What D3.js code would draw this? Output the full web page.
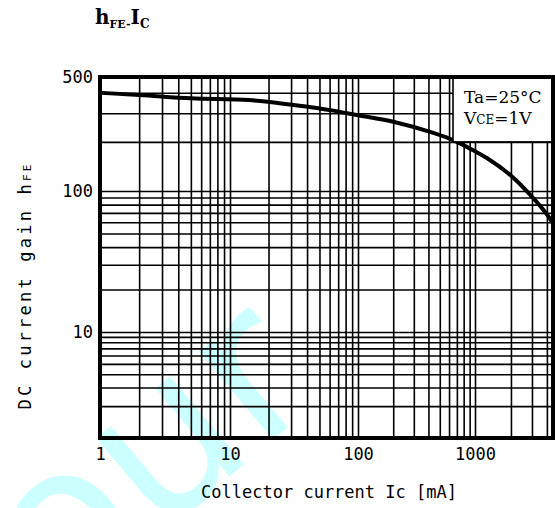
<!DOCTYPE html>
<html>
<head>
<meta charset="utf-8">
<script src="https://cdn.jsdelivr.net/npm/d3@7"></script>
<style>
  body { margin: 0; background: #fff; }
  svg { display: block; }
  .grid line { stroke: #000; stroke-width: 1.6; }
  .grid path { display: none; }
  .lab path, .lab line { display: none; }
  .lab text { font-family: "DejaVu Sans Mono", monospace; font-size: 17px; fill: #000; }
</style>
</head>
<body>
<svg width="555" height="508"></svg>
<script>
// hFE - Ic curve
var icValues  = [1, 2, 5, 14, 31, 64, 100, 200, 440, 650, 1000, 1330, 2060, 3000, 4170, 4500];
var hfeValues = [400, 388, 370, 361, 337, 311, 291, 266, 227, 205, 175, 155, 122, 91, 65, 59];

var xTicks = [1, 10, 100, 1000];
var yTicks = [10, 100, 500];
var xGrid = [2,3,4,5,6,7,8,9,10, 20,30,40,50,60,70,80,90,100, 200,300,400,500,600,700,800,900,1000, 2000,3000,4000];
var yGrid = [2,3,4,5,6,7,8,9,10, 20,30,40,50,60,70,80,90,100, 200,300,400];

var svg = d3.select("svg"),
    plotL = 100, plotR = 553, plotT = 77, plotB = 438;

// the paper axes are drawn by hand, decades are not even -> piecewise log scales
var x = d3.scaleLog()
    .domain([1, 10, 100, 1000, 4500])
    .range([plotL, 230, 358, 475, plotR]);
var y = d3.scaleLog()
    .domain([1, 10, 100, 500])
    .range([plotB, 332, 191, plotT]);

// watermark behind everything
svg.append("text")
    .attr("transform", "translate(58,620) rotate(-40)")
    .style("font-family", "DejaVu Sans")
    .style("font-size", "210px")
    .style("fill", "#ccffff")
    .text("our");

// grid
svg.append("g")
    .attr("class", "grid")
    .attr("transform", "translate(0," + plotB + ")")
    .call(d3.axisBottom(x).tickValues(xGrid).tickSize(-(plotB - plotT)).tickFormat(""));

svg.append("g")
    .attr("class", "grid")
    .attr("transform", "translate(" + plotL + ",0)")
    .call(d3.axisLeft(y).tickValues(yGrid).tickSize(-(plotR - plotL)).tickFormat(""));

// curve
var line = d3.line()
    .x(function (d) { return x(d[0]); })
    .y(function (d) { return y(d[1]); })
    .curve(d3.curveMonotoneX);

svg.append("path")
    .datum(d3.zip(icValues, hfeValues))
    .attr("d", line)
    .attr("fill", "none")
    .attr("stroke", "#000")
    .attr("stroke-width", 4);

// condition box, covers the grid in the top right corner
var box = svg.append("g");
box.append("rect")
    .attr("x", 453).attr("y", plotT)
    .attr("width", plotR - 453).attr("height", y(200) - plotT)
    .attr("fill", "#fff")
    .attr("stroke", "#000")
    .attr("stroke-width", 1.6);

var boxText = box.append("text")
    .style("font-family", "DejaVu Serif")
    .style("font-size", "17px")
    .attr("x", 464);
boxText.append("tspan").attr("y", 103).text("Ta=25°C");
boxText.append("tspan").attr("x", 464).attr("y", 124).text("V");
boxText.append("tspan").style("font-size", "12px").text("CE");
boxText.append("tspan").text("=1V");

// frame
svg.append("rect")
    .attr("x", plotL).attr("y", plotT)
    .attr("width", plotR - plotL).attr("height", plotB - plotT)
    .attr("fill", "none")
    .attr("stroke", "#000")
    .attr("stroke-width", 4);

// tick labels
svg.append("g")
    .attr("class", "lab")
    .attr("transform", "translate(0," + plotB + ")")
    .call(d3.axisBottom(x).tickValues(xTicks).tickSize(0).tickPadding(10).tickFormat(d3.format("d")));

svg.append("g")
    .attr("class", "lab")
    .attr("transform", "translate(" + plotL + ",0)")
    .call(d3.axisLeft(y).tickValues(yTicks).tickSize(0).tickPadding(7).tickFormat(d3.format("d")));

// axis titles
svg.append("text")
    .attr("x", 329).attr("y", 498)
    .attr("text-anchor", "middle")
    .style("font-family", "DejaVu Sans Mono")
    .style("font-size", "17px")
    .text("Collector current Ic [mA]");

var yt = svg.append("text")
    .attr("transform", "translate(31,287) rotate(-90)")
    .attr("text-anchor", "middle")
    .style("font-family", "DejaVu Sans Mono")
    .style("font-size", "17px")
    .attr("textLength", 245);
yt.append("tspan").text("DC current gain h");
yt.append("tspan").style("font-size", "11px").text("FE");

// title
var t = svg.append("text")
    .attr("x", 95).attr("y", 24)
    .style("font-family", "DejaVu Serif")
    .style("font-weight", "bold")
    .style("font-size", "20px");
t.append("tspan").text("h");
t.append("tspan").style("font-size", "11px").attr("dy", 4).text("FE-");
t.append("tspan").attr("dy", -4).text("I");
t.append("tspan").style("font-size", "12px").attr("dy", 4).text("C");
</script>
</body>
</html>
